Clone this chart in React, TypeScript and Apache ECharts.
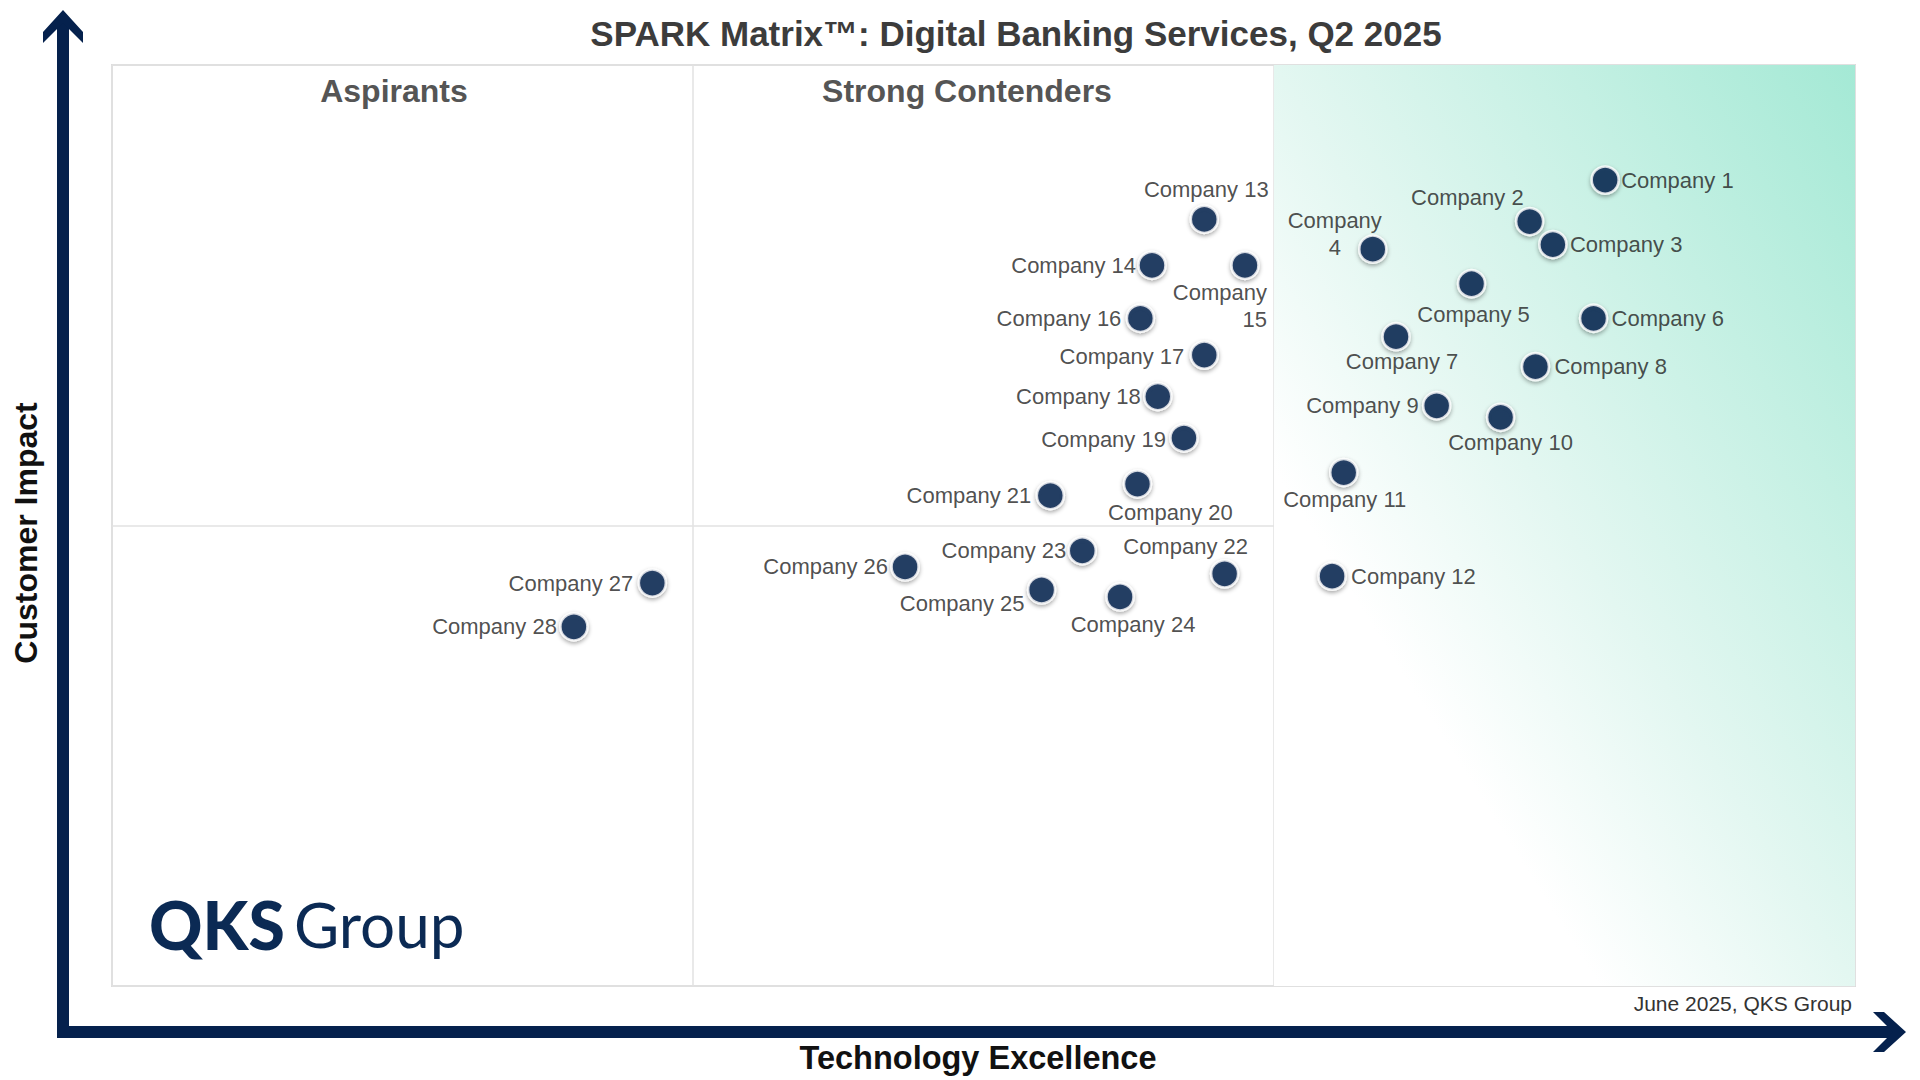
import { useEffect, useRef } from 'react'
import * as echarts from 'echarts'

// values: technology excellence (x, 0-3) and customer impact (y, 0-2)
const companies = [
  'Company 1', 'Company 2', 'Company 3', 'Company 4', 'Company 5', 'Company 6', 'Company 7',
  'Company 8', 'Company 9', 'Company 10', 'Company 11', 'Company 12', 'Company 13', 'Company 14',
  'Company 15', 'Company 16', 'Company 17', 'Company 18', 'Company 19', 'Company 20', 'Company 21',
  'Company 22', 'Company 23', 'Company 24', 'Company 25', 'Company 26', 'Company 27', 'Company 28',
]
const techExcellence = [
  2.57, 2.44, 2.48, 2.17, 2.34, 2.55, 2.21, 2.45, 2.28, 2.39, 2.12, 2.1, 1.88, 1.79,
  1.95, 1.77, 1.88, 1.8, 1.845, 1.765, 1.615, 1.915, 1.67, 1.735, 1.6, 1.365, 0.93, 0.795,
]
const customerImpact = [
  1.75, 1.66, 1.61, 1.6, 1.525, 1.45, 1.41, 1.345, 1.26, 1.235, 1.115, 0.89, 1.665, 1.565,
  1.565, 1.45, 1.37, 1.28, 1.19, 1.09, 1.065, 0.895, 0.945, 0.845, 0.86, 0.91, 0.875, 0.78,
]
const quadrants = ['Aspirants', 'Strong Contenders', 'SPARK Leaders']

// label placement per company: [dx, dy, align] from the marker centre
const labelPlacement: [number, number, string][] = [
  [16, 0, 'left'], [-6, -24, 'right'], [17, 0, 'left'], [-38, -15, 'center'],
  [2, 31, 'center'], [18, 0, 'left'], [6, 25, 'center'], [19, 0, 'left'],
  [-18, 0, 'right'], [10, 25, 'center'], [1, 27, 'center'], [19, 0, 'left'],
  [2, -30, 'center'], [-16, 0, 'right'], [22, 41, 'right'], [-19, 0, 'right'],
  [-20, 1, 'right'], [-17, 0, 'right'], [-18, 1, 'right'], [33, 28, 'center'],
  [-19, 0, 'right'], [-39, -27, 'center'], [-16, 0, 'right'], [13, 28, 'center'],
  [-17, 14, 'right'], [-17, 0, 'right'], [-19, 0, 'right'], [-17, 0, 'right'],
]
const wrappedLabels = ['Company 4', 'Company 15']

const NAVY = '#05214d'
const FONT = '"Liberation Sans", Arial, Helvetica, sans-serif'

export default function App() {
  const chartRef = useRef<HTMLDivElement | null>(null)

  useEffect(() => {
    if (!chartRef.current) {
      return
    }

    const chart = echarts.init(chartRef.current, null, { renderer: 'svg' })
    chart.setOption({
      animation: false,
      backgroundColor: '#ffffff',
      grid: {
        left: 112,
        top: 65,
        width: 1743,
        height: 921,
        show: true,
        borderColor: '#dcdcdc',
        borderWidth: 2,
      },
      xAxis: {
        type: 'value',
        min: 0,
        max: 3,
        interval: 1,
        axisLine: { show: false },
        axisTick: { show: false },
        axisLabel: { show: false },
        splitLine: { show: true, lineStyle: { color: '#e2e2e2', width: 1.5 } },
      },
      yAxis: {
        type: 'value',
        min: 0,
        max: 2,
        interval: 1,
        axisLine: { show: false },
        axisTick: { show: false },
        axisLabel: { show: false },
        splitLine: { show: true, lineStyle: { color: '#e2e2e2', width: 1.5 } },
      },
      series: [
        {
          type: 'scatter',
          z: -1,
          silent: true,
          data: [],
          markArea: {
            silent: true,
            itemStyle: {
              color: {
                type: 'linear',
                x: 1,
                y: 0,
                x2: 0,
                y2: 1,
                colorStops: [
                  { offset: 0, color: '#a4e9d5' },
                  { offset: 0.25, color: '#c4f0e3' },
                  { offset: 0.5, color: '#e3f7f1' },
                  { offset: 0.72, color: '#ffffff' },
                  { offset: 1, color: '#ffffff' },
                ],
              },
            },
            data: [[{ xAxis: 2, yAxis: 2 }, { xAxis: 3, yAxis: 0 }]],
          },
        },
        {
          type: 'scatter',
          z: 5,
          symbol: 'circle',
          symbolSize: 27,
          itemStyle: {
            color: NAVY,
            borderColor: '#ffffff',
            borderWidth: 2.5,
            shadowBlur: 4,
            shadowOffsetY: 2,
            shadowColor: 'rgba(0,0,0,0.4)',
          },
          data: companies.map((name, i) => {
            const [dx, dy, align] = labelPlacement[i]
            return {
              name,
              value: [techExcellence[i], customerImpact[i]],
              label: {
                show: true,
                position: 'inside',
                align,
                verticalAlign: 'middle',
                offset: [dx, dy],
                formatter: wrappedLabels.includes(name) ? name.replace(' ', '\n') : name,
              },
            }
          }),
          label: {
            color: '#222222',
            fontFamily: FONT,
            fontSize: 22,
            lineHeight: 27,
          },
        },
      ],
      graphic: [
        {
          type: 'text',
          x: 1016,
          y: 33,
          style: {
            text: 'SPARK Matrix™: Digital Banking Services, Q2 2025',
            font: `bold 35px ${FONT}`,
            fill: '#3c3c3c',
            align: 'center',
            verticalAlign: 'middle',
          },
        },
        ...quadrants.map((q, i) => ({
          type: 'text',
          x: [394, 967, 1560][i],
          y: 91,
          style: {
            text: q,
            font: `bold 32px ${FONT}`,
            fill: '#555555',
            align: 'center',
            verticalAlign: 'middle',
          },
        })),
        {
          type: 'text',
          x: 26,
          y: 533,
          rotation: Math.PI / 2,
          style: {
            text: 'Customer Impact',
            font: `bold 32px ${FONT}`,
            fill: '#111111',
            align: 'center',
            verticalAlign: 'middle',
          },
        },
        {
          type: 'text',
          x: 978,
          y: 1058,
          style: {
            text: 'Technology Excellence',
            font: `bold 32.5px ${FONT}`,
            fill: '#111111',
            align: 'center',
            verticalAlign: 'middle',
          },
        },
        {
          type: 'text',
          x: 1852,
          y: 1003,
          style: {
            text: 'June 2025, QKS Group',
            font: `21px ${FONT}`,
            fill: '#333333',
            align: 'right',
            verticalAlign: 'middle',
          },
        },
        {
          type: 'text',
          x: 149,
          y: 924,
          style: {
            text: 'QKS',
            font: '900 66px Lato, sans-serif',
            fill: '#0b2a54',
            align: 'left',
            verticalAlign: 'middle',
          },
        },
        {
          type: 'text',
          x: 294,
          y: 924,
          style: {
            text: 'Group',
            font: '400 62px Lato, sans-serif',
            fill: '#0b2a54',
            align: 'left',
            verticalAlign: 'middle',
          },
        },
        // axis arrows
        { type: 'rect', shape: { x: 57, y: 20, width: 12, height: 1018 }, style: { fill: NAVY } },
        { type: 'rect', shape: { x: 57, y: 1026, width: 1838, height: 12 }, style: { fill: NAVY } },
        {
          type: 'polygon',
          shape: { points: [[63, 10], [83, 32], [83, 43], [63, 23], [43, 43], [43, 32]] },
          style: { fill: NAVY },
        },
        {
          type: 'polygon',
          shape: {
            points: [[1906, 1032], [1884, 1052], [1873, 1052], [1893, 1032], [1873, 1012], [1884, 1012]],
          },
          style: { fill: NAVY },
        },
      ],
    })

    return () => {
      chart.dispose()
    }
  }, [])

  return (
    <div
      ref={chartRef}
      style={{ position: 'fixed', left: 0, top: 0, width: 1920, height: 1080, background: '#fff' }}
    />
  )
}
